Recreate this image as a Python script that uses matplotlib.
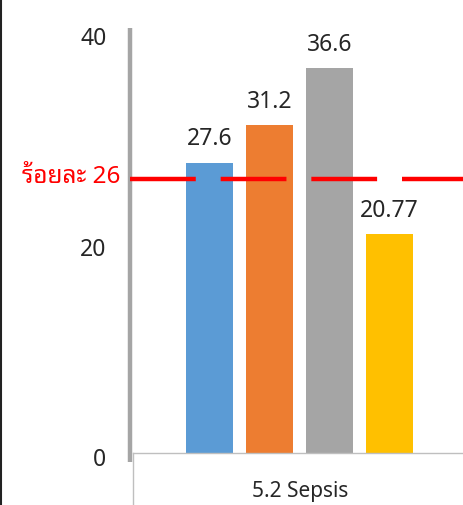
import matplotlib
matplotlib.use('Agg')
import matplotlib.pyplot as plt
import matplotlib.transforms as mtransforms
from matplotlib.lines import Line2D

categories = ['5.2 Sepsis']
values = [27.6, 31.2, 36.6, 20.77]
labels = ['27.6', '31.2', '36.6', '20.77']
colors = ['#5b9bd5', '#ed7d31', '#a5a5a5', '#ffc000']
target = 26
target_label = 'ร้อยละ 26'
yticks = [0, 20, 40]

NUM_FONT = ['Noto Sans', 'DejaVu Sans']
THAI_FONT = ['Noto Sans Thai Looped', 'Noto Sans Thai', 'Noto Sans', 'DejaVu Sans']
plt.rcParams['font.family'] = NUM_FONT
TEXT = '#262626'
FS = 16.5

W, H = 463, 505
fig = plt.figure(figsize=(W / 100, H / 100), dpi=100, facecolor='white')
ax = fig.add_axes([130 / W, 52 / H, 333 / W, 421 / H])

bar_w = 0.141
step = 0.18
xs = [(i - 1.5) * step for i in range(len(values))]
ax.bar(xs, values, width=bar_w, color=colors, zorder=2)
for x, v, lab in zip(xs, values, labels):
    ax.annotate(lab, (x, v), xytext=(0, 8), textcoords='offset points',
                ha='center', va='bottom', fontsize=FS, color=TEXT)

ax.axhline(target, color='#ff0000', lw=3.2, dashes=(14.8, 5.6), zorder=3)
fig.text(120 / W, (H - 177) / H, target_label, ha='right', va='center',
         fontsize=17.5, color='#ff0000', family=THAI_FONT)

ax.set_xlim(-0.51, 0.49)
ax.set_ylim(0, 40)
ax.set_yticks(yticks)
ax.set_yticklabels([str(t) for t in yticks], fontsize=FS, color=TEXT)
ax.tick_params(axis='y', length=0, pad=17)
ax.set_xticks([0])
ax.set_xticklabels(categories, fontsize=15, color=TEXT)
ax.tick_params(axis='x', length=0, pad=20)
for s in ax.spines.values():
    s.set_visible(False)

# tick labels sit a little below their ticks in the original
shift = mtransforms.ScaledTranslation(0, -4 / 100, fig.dpi_scale_trans)
for lbl in ax.get_yticklabels():
    lbl.set_transform(lbl.get_transform() + shift)

# axis lines
ax.add_line(Line2D([0, 0], [-9 / 421, 1 + 4 / 421], transform=ax.transAxes,
                   color='#a5a5a5', lw=3.2, clip_on=False, solid_capstyle='butt'))
ax.add_line(Line2D([3 / 333, 1], [0, 0], transform=ax.transAxes,
                   color='#bfbfbf', lw=1.0, clip_on=False))
ax.add_line(Line2D([3 / 333, 3 / 333], [0, -52 / 421], transform=ax.transAxes,
                   color='#bfbfbf', lw=1.0, clip_on=False))

# frame edge on the left
fig.add_artist(Line2D([1 / W, 1 / W], [0, 1], color='#222222', lw=1.5))

fig.savefig('out.png', dpi=100, facecolor='white')
